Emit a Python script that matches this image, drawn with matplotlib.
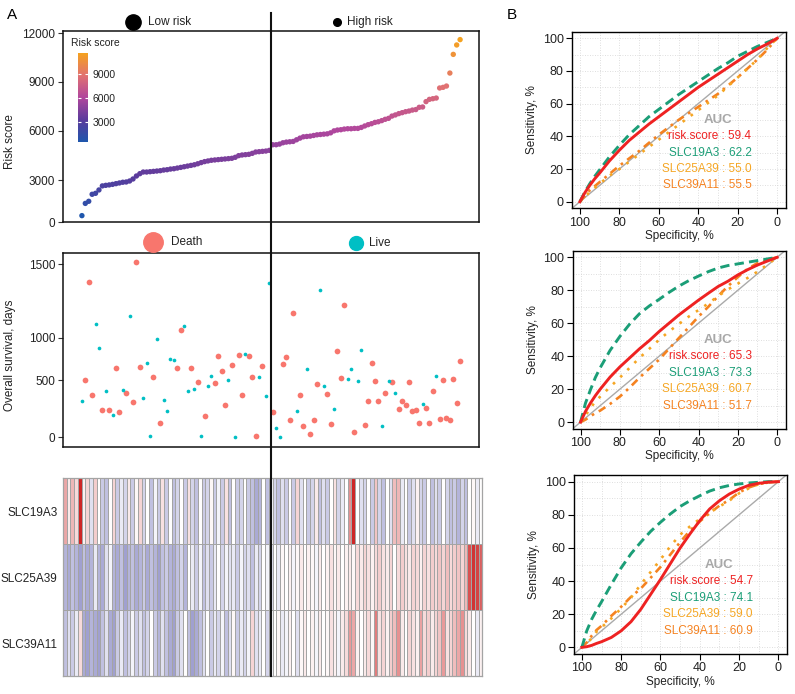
import numpy as np
import matplotlib
matplotlib.use("Agg")
import matplotlib.pyplot as plt
from matplotlib.colors import LinearSegmentedColormap, Normalize, TwoSlopeNorm
from matplotlib.lines import Line2D

plt.rcParams['font.family'] = ['Liberation Sans', 'DejaVu Sans']

# ---- data ----
risk_score = [476, 1350, 1500, 2000, 2070, 2310, 2600, 2640, 2670, 2710,
              2760, 2810, 2860, 2880, 2950, 3080, 3260, 3400, 3500, 3500,
              3520, 3540, 3560, 3580, 3620, 3640, 3680, 3700, 3740, 3780,
              3820, 3860, 3900, 3940, 4000, 4070, 4130, 4170, 4210, 4230,
              4250, 4270, 4290, 4310, 4330, 4390, 4490, 4530, 4550, 4570,
              4630, 4710, 4730, 4750, 4770, 4810, 5150, 5150, 5190, 5270,
              5310, 5330, 5350, 5450, 5550, 5630, 5650, 5670, 5710, 5750,
              5770, 5790, 5810, 5870, 5990, 6040, 6060, 6100, 6120, 6120,
              6140, 6140, 6200, 6290, 6370, 6430, 6510, 6550, 6620, 6700,
              6760, 6900, 6970, 7050, 7110, 7170, 7210, 7270, 7300, 7440,
              7460, 7790, 7930, 7970, 8010, 8630, 8670, 8750, 9550, 10700,
              11280, 11610]

survival_days = [319, 497, 1380, 371, 1093, 882, 240, 404, 234, 196,
                 642, 219, 412, 386, 1147, 304, 1516, 657, 345, 701,
                 6, 535, 984, 123, 325, 231, 748, 736, 646, 1050,
                 1079, 401, 642, 424, 485, 9, 184, 447, 543, 477,
                 780, 610, 284, 504, 673, 0, 791, 371, 811, 780,
                 535, 12, 535, 661, 357, 1373, 222, 79, 3, 689,
                 768, 146, 1165, 228, 371, 96, 630, 29, 146, 468,
                 1321, 450, 380, 111, 249, 843, 528, 1222, 512, 634,
                 41, 491, 850, 105, 313, 701, 491, 313, 96, 389,
                 494, 480, 386, 243, 319, 281, 482, 228, 237, 123,
                 292, 257, 123, 401, 551, 155, 497, 164, 146, 512,
                 298, 724]

status = [0, 1, 1, 1, 0, 0, 1, 0, 1, 0,
          1, 1, 0, 1, 0, 1, 1, 1, 0, 0,
          0, 1, 0, 1, 0, 0, 0, 0, 1, 1,
          0, 0, 1, 0, 1, 0, 1, 0, 0, 1,
          1, 1, 1, 0, 1, 0, 1, 1, 0, 1,
          1, 1, 0, 1, 0, 0, 1, 0, 0, 1,
          1, 1, 1, 0, 1, 1, 0, 1, 1, 1,
          0, 0, 1, 1, 0, 1, 1, 1, 0, 0,
          1, 0, 0, 1, 1, 1, 1, 1, 0, 1,
          0, 1, 0, 1, 1, 1, 1, 1, 1, 1,
          0, 1, 1, 1, 0, 1, 1, 1, 1, 1,
          1, 1]

genes = ['SLC19A3', 'SLC25A39', 'SLC39A11']

expr_slc19a3 = [1.2, 0.3, 1.0, 0.5, 3.0, 0.2, 0.6, -0.3, 0.7, 0.0,
                -0.5, -0.6, 0.0, 0.6, -0.5, -0.2, -0.4, 0.3, -0.5, 0.1,
                0.6, -0.4, 0.0, -0.6, -0.1, -0.5, 0.4, -0.5, 0.0, -0.6,
                -0.4, 0.0, -0.5, 0.4, -0.4, -0.6, 0.0, -0.5, -0.4, 0.1,
                -0.5, -0.1, -0.5, 0.4, -0.6, 0.0, -0.5, -0.4, 0.0, -0.5,
                -0.6, -0.8, -0.7, 0.0, -0.6, -0.1,
                -0.4, -0.6, -0.3, -0.5, 0.0, -0.5, 0.6, -0.3, 0.0, -0.5,
                -0.4, 0.3, -0.6, -0.3, -0.5, 0.0, 0.4, -0.4, -0.2, 0.0,
                1.5, 3.0, 0.0, -0.3, -0.4, 0.0, -0.5, 0.8, -0.4, -0.6,
                0.0, -0.3, 0.9, 1.0, -0.2, 0.0, -0.5, -0.3, 0.2, -0.4,
                -0.5, 0.0, -0.6, -0.3, -0.5, 0.0, -0.4, -0.6, -0.5, -0.7,
                -0.4, -0.6, 0.0, 0.1, -0.2, 0.0]

expr_slc25a39 = [-0.7, -0.8, -0.6, -0.7, -0.9, -0.6, -0.8, -0.7, -0.2, -0.7,
                 -0.8, -0.3, -0.1, -0.7, -0.8, -0.6, -0.9, -0.7, -0.6, -0.8,
                 -0.7, -0.5, -0.8, -0.6, -0.7, -0.9, -0.6, -0.5, -0.7, -0.8,
                 -0.6, -0.4, -0.7, 0.0, -0.2, -0.5, -0.1, -0.6, -0.3, -0.5,
                 -0.2, 0.0, -0.4, -0.1, -0.3, -0.2, -0.5, -0.1, -0.4, -0.3,
                 -0.6, -0.2, -0.4, 0.0, -0.1, -0.3,
                 0.0, -0.2, 0.1, 0.0, 0.2, -0.1, 0.1, 0.3, 0.0, 0.2,
                 0.1, -0.1, 0.3, 0.0, 0.2, 0.4, 0.1, 0.3, 0.0, 0.2,
                 0.3, 0.1, 0.5, 0.3, 0.6, 0.4, 0.2, 0.5, 0.7, 0.4,
                 0.3, 0.6, 0.0, 0.5, 0.7, 0.4, 0.3, 0.6, 0.5, 0.2,
                 0.6, 0.4, 0.7, 0.5, 0.8, 0.6, 0.9, 0.5, 0.7, 0.8,
                 0.6, 1.0, 2.4, 2.8, 2.6, 2.2]

expr_slc39a11 = [-0.6, -0.3, -0.5, -0.2, 0.5, -0.8, -0.9, -0.7, -0.8, -0.9,
                 -0.6, -0.3, -0.8, -0.9, -0.5, -0.2, -0.6, -0.4, -0.1, -0.5,
                 -0.3, -0.6, -0.4, 0.0, -0.5, -0.7, -0.3, -0.6, -0.8, -0.9,
                 -0.5, -0.3, 0.0, -0.6, -0.9, -0.8, -0.6, -0.3, 0.0, -0.5,
                 -0.2, -0.4, -0.1, -0.6, -0.3, 0.1, -0.5, -0.2, -0.4, -0.1,
                 0.6, -0.3, -0.2, 0.0, -0.4, -0.1,
                 0.0, 0.1, -0.2, -0.1, 0.2, 0.0, -0.3, 0.1, 0.3, 0.0,
                 0.2, -0.1, 0.3, 0.0, 0.1, 0.4, 0.2, -0.1, 0.3, 0.5,
                 1.4, 1.2, 0.2, 0.0, 0.3, 0.5, 0.1, 1.8, 0.4, 0.6,
                 0.2, 0.7, 0.9, 1.5, 0.3, 0.0, 0.6, 0.4, 0.2, 1.3,
                 0.5, 0.7, 0.3, 0.6, 0.8, 1.4, 0.4, 0.6, 0.9, 1.2,
                 1.5, 0.5, 0.3, 0.0, -0.2, 0.2]

# ROC curves: specificity grid and the sensitivity read at each point
roc_spec = [100, 97.5, 95, 92.5, 90, 85, 80, 75, 70, 65, 60, 55,
            50, 45, 40, 35, 30, 25, 20, 15, 10, 5, 0]
roc_names = ['risk.score', 'SLC19A3', 'SLC25A39', 'SLC39A11']
roc_sens = [
    [[0, 5.5, 10, 14, 17.5, 25, 31.5, 37.5, 42.5, 47.5, 52, 56.5,
      61, 65.5, 70, 74, 78, 82, 86, 90, 93.5, 96.5, 100],
     [0, 6, 11, 15.5, 19.5, 27.5, 34.5, 41, 46.5, 52, 56.5, 61,
      65.5, 69.5, 73.5, 77.5, 81.5, 85, 89, 92, 95, 97.5, 100],
     [0, 3, 6, 8.5, 11, 16, 20, 24.5, 29, 33.5, 38, 42.5,
      47, 51.5, 56, 60.5, 65, 70.5, 76, 81.5, 87, 94, 100],
     [0, 3.5, 7, 9.5, 12, 17, 22, 26.5, 31, 36, 41, 45.5,
      50, 54, 58, 62, 66, 71, 76, 81.5, 87, 93, 100]],
    [[0, 6.5, 11.5, 16, 20, 27.3, 33.5, 39, 44.5, 49.5, 55, 60,
      65, 69.5, 74, 78.2, 82.3, 85.5, 89.3, 92.5, 95.3, 97.7, 100],
     [0, 11.5, 19.5, 27, 33, 43.5, 52, 59.5, 65.8, 70.5, 74.5, 78.7,
      82.5, 85.8, 88.6, 91.3, 93.5, 95, 96, 97, 98, 99, 100],
     [0, 4, 8.5, 12.5, 15.5, 21.3, 27, 33, 39, 44.5, 50, 55,
      59.5, 64, 68, 72, 76.5, 80.5, 84, 87.5, 91.3, 95.5, 100],
     [0, 1.5, 3.5, 5.5, 7, 11, 15.5, 21, 27, 32.5, 38, 44.5,
      51, 57.5, 64, 70, 76.5, 82.5, 88, 93, 96.5, 98.5, 100]],
    [[0, 0.4, 1.2, 2.4, 3.4, 6, 10, 15.5, 23, 32, 41, 50.5,
      60, 68.5, 76.5, 83.5, 88.5, 92.5, 95.5, 97.8, 99, 99.7, 100],
     [0, 10, 17, 22.5, 27.5, 38, 48, 56.5, 63.5, 70, 75.5, 80.5,
      85, 88.5, 91.5, 94.3, 96.3, 97.7, 98.6, 99.2, 99.6, 100, 100],
     [0, 2.5, 5.5, 9.5, 12, 17.5, 23.5, 30, 38, 45.5, 53, 61,
      68, 73, 77.5, 81.5, 85, 88.5, 93, 96, 98.5, 99.5, 100],
     [0, 3, 7, 10.5, 13, 19, 24.5, 30.5, 35.5, 42, 48.5, 56,
      63.5, 70.5, 76, 81, 85.5, 89, 93.5, 96.5, 98.5, 99.5, 100]],
]
roc_auc = [[59.4, 62.2, 55.0, 55.5],
           [65.3, 73.3, 60.7, 51.7],
           [54.7, 74.1, 59.0, 60.9]]

# ---- figure ----
W, H = 795, 694
fig = plt.figure(figsize=(W / 100, H / 100), dpi=100)


def px_axes(l, t, r, b):
    return fig.add_axes([l / W, 1 - b / H, (r - l) / W, (b - t) / H])


def piecewise(kv, kp):
    # axis scale that puts the given tick values at the given heights
    kv = np.asarray(kv, float)
    kp = np.asarray(kp, float)
    s0 = (kp[1] - kp[0]) / (kv[1] - kv[0])
    s1 = (kp[-1] - kp[-2]) / (kv[-1] - kv[-2])
    big = 1e6
    xv = np.concatenate([[kv[0] - big], kv, [kv[-1] + big]])
    xp = np.concatenate([[kp[0] - big * s0], kp, [kp[-1] + big * s1]])
    return (lambda v: np.interp(v, xv, xp)), (lambda p: np.interp(p, xp, xv))


n = len(risk_score)
idx = np.arange(1, n + 1)
xpad = 0.05 * (n - 1)
fs = 8.5
tcol = '#222222'

# risk score panel
risk_cmap = LinearSegmentedColormap.from_list(
    'risk', ['#1f57ad', '#5b3b9c', '#b1479d', '#e27371', '#f5a21f'])
rnorm = Normalize(min(risk_score), max(risk_score))

ax1 = px_axes(63, 31, 479, 222.3)
ax1.set_yscale('function', functions=piecewise([0, 3000, 6000, 9000, 12000],
                                               [0, 42, 91.6, 140.3, 189]))
ax1.scatter(idx, risk_score, c=risk_score, cmap=risk_cmap, norm=rnorm,
            s=15, linewidths=0, zorder=3)
ax1.set_xlim(1 - xpad, n + xpad)
ax1.set_ylim(0, 12140)
ax1.set_yticks([0, 3000, 6000, 9000, 12000])
ax1.set_xticks([])

# survival panel
ax2 = px_axes(63, 253, 479, 446.7)
ax2.set_yscale('function', functions=piecewise([0, 500, 1000, 1500],
                                               [0, 57, 99.3, 173]))
days = np.array(survival_days)
st = np.array(status)
ax2.scatter(idx[st == 1], days[st == 1], color='#F8766D', s=17,
            linewidths=0, zorder=3)
ax2.scatter(idx[st == 0], days[st == 0], color='#00BFC4', s=7,
            linewidths=0, zorder=3)
ax2.set_xlim(1 - xpad, n + xpad)
ax2.set_ylim(-85, 1575)
ax2.set_yticks([0, 500, 1000, 1500])
ax2.set_xticks([])

for ax in (ax1, ax2):
    for sp in ax.spines.values():
        sp.set_linewidth(1.1)
        sp.set_color('#111111')
    ax.tick_params(axis='y', length=3.5, width=0.8, color='#333333',
                   labelsize=fs, labelcolor=tcol, pad=2)

fig.text(10 / W, 1 - 141.7 / H, 'Risk score', rotation=90, ha='center',
         va='center', fontsize=fs, color=tcol)
fig.text(10 / W, 1 - 355 / H, 'Overall survival, days', rotation=90,
         ha='center', va='center', fontsize=fs, color=tcol)

# colour bar inside the risk panel
cax = fig.add_axes([78 / W, 1 - 142 / H, 10 / W, 89 / H])
grad = np.linspace(min(risk_score), max(risk_score), 256).reshape(-1, 1)
cax.imshow(grad, aspect='auto', origin='lower', cmap=risk_cmap, norm=rnorm,
           extent=[0, 1, min(risk_score), max(risk_score)])
cax.set_xticks([])
cax.set_yticks([3000, 6000, 9000])
cax.yaxis.set_ticks_position('both')
cax.tick_params(axis='y', direction='in', length=2, width=0.8, color='white',
                labelleft=False, labelright=True, labelsize=7.5,
                labelcolor=tcol, pad=3)
for sp in cax.spines.values():
    sp.set_visible(False)
fig.text(71 / W, 1 - 43 / H, 'Risk score', fontsize=7.5, color=tcol,
         ha='left', va='center')


# group legends above panels
def legend_item(x, y, size, color, label, tx):
    fig.add_artist(Line2D([x / W], [1 - y / H], marker='o', markersize=size,
                          color=color, linestyle='none',
                          transform=fig.transFigure))
    fig.text(tx / W, 1 - y / H, label, fontsize=fs, color=tcol,
             ha='left', va='center')


legend_item(132.7, 21.7, 11, 'black', 'Low risk', 147.7)
legend_item(336.7, 21.7, 5.5, 'black', 'High risk', 346.7)
legend_item(152.7, 242.3, 14, '#F8766D', 'Death', 171)
legend_item(356, 242.7, 10, '#00BFC4', 'Live', 369)

# heatmap
ax3 = px_axes(63, 478, 482.3, 676)
mat = np.array([expr_slc19a3, expr_slc25a39, expr_slc39a11])
heat_cmap = LinearSegmentedColormap.from_list('ph', ['#000080', 'white', '#CD2626'])
ax3.pcolormesh(np.arange(n + 1), np.arange(len(genes) + 1), mat,
               cmap=heat_cmap, norm=TwoSlopeNorm(0, -2.4, 3),
               edgecolors='#a4a4a4', linewidth=0.6)
ax3.set_xlim(0, n)
ax3.set_ylim(len(genes), 0)
ax3.set_xticks([])
ax3.set_yticks(np.arange(len(genes)) + 0.5)
ax3.set_yticklabels(genes)
ax3.tick_params(axis='y', length=0, labelsize=fs, labelcolor=tcol, pad=4)
for sp in ax3.spines.values():
    sp.set_color('#a4a4a4')
    sp.set_linewidth(0.9)

# split line between low and high risk
split = (n // 2) + 0.5
xd = ax1.transData.transform((split, 1000))[0]
xf = fig.transFigure.inverted().transform((xd, 0))[0]
fig.add_artist(Line2D([xf, xf], [1 - 13 / H, 1 - 676 / H], color='#111111',
                      lw=1.5, transform=fig.transFigure, zorder=10))

# ROC panels
roc_boxes = [(572, 31.7, 786, 208.3), (572.7, 250.7, 786, 428.7),
             (574, 475, 787.3, 654)]
roc_colors = ['#EE2222', '#1B9E77', '#F5A623', '#F58220']
roc_dashes = [None, (3.2, 1.8), (1, 2.8), (3, 2, 1, 2)]
for p, box in enumerate(roc_boxes):
    ax = px_axes(*box)
    for v in range(0, 101, 10):
        ax.axhline(v, color='#d4d4d4', lw=0.6, dashes=(1, 2), zorder=0)
        ax.axvline(v, color='#d4d4d4', lw=0.6, dashes=(1, 2), zorder=0)
    ax.axline((100, 0), (0, 100), color='#aaaaaa', lw=1, zorder=1)
    for k in range(len(roc_names)):
        ln, = ax.plot(roc_spec, roc_sens[p][k], color=roc_colors[k],
                      lw=2.1 if k < 2 else 1.9, zorder=3 + (3 - k))
        if roc_dashes[k] is not None:
            ln.set_dashes(roc_dashes[k])
    ax.text(30, 50, 'AUC', color='#a8a8a8', fontsize=9.5, fontweight='bold',
            ha='center', va='center')
    for k in range(len(roc_names)):
        ax.text(13, 40 - 10 * k, f'{roc_names[k]} : {roc_auc[p][k]:.1f}',
                color=roc_colors[k], fontsize=fs, ha='right', va='center')
    ax.set_xlim(104, -4.5)
    ax.set_ylim(-4, 104)
    ax.set_xticks([100, 80, 60, 40, 20, 0])
    ax.set_yticks([0, 20, 40, 60, 80, 100])
    ax.tick_params(length=4, width=0.8, labelsize=9, labelcolor=tcol, pad=2)
    for sp in ax.spines.values():
        sp.set_linewidth(1)
    ax.set_xlabel('Specificity, %', fontsize=fs, color=tcol, labelpad=1)
    ax.set_ylabel('Sensitivity, %', fontsize=fs, color=tcol, labelpad=3)

fig.text(12 / W, 1 - 15 / H, 'A', fontsize=11, ha='center', va='center')
fig.text(512 / W, 1 - 15 / H, 'B', fontsize=11, ha='center', va='center')

fig.savefig('out.png', dpi=100)
